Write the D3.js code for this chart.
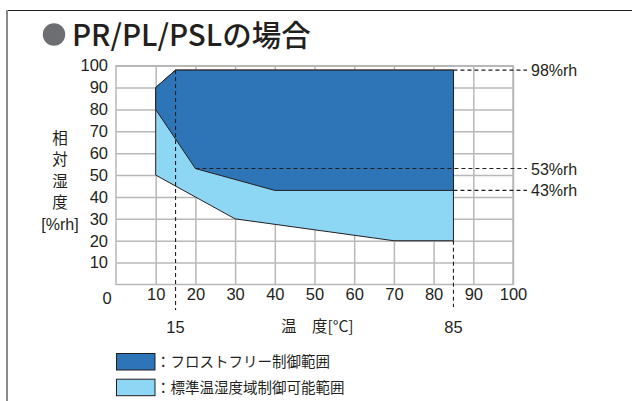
<!DOCTYPE html>
<html>
<head>
<meta charset="utf-8">
<script src="https://cdn.jsdelivr.net/npm/d3@7/dist/d3.min.js"></script>
<style>
  html, body { margin: 0; padding: 0; background: #fff; }
  svg { display: block; }
  text { font-family: "Liberation Sans", Arial, sans-serif; fill: #231f20; }
  .jp { font-family: "Noto Sans CJK JP", sans-serif; }
</style>
</head>
<body>
<svg id="chart" width="632" height="401"></svg>
<script>
// Temperature ticks (°C) and humidity ticks (%rh)
const xTicks = [10, 20, 30, 40, 50, 60, 70, 80, 90, 100];
const yTicks = [10, 20, 30, 40, 50, 60, 70, 80, 90, 100];

// Standard temperature/humidity control range (outer envelope) [temp, rh]
const standardRange = [
  [10, 90], [15, 98], [85, 98], [85, 20], [70, 20], [30, 30], [20, 40], [10, 50]
];
// Frost-free control range [temp, rh]
const frostFreeRange = [
  [10, 90], [15, 98], [85, 98], [85, 43], [40, 43], [20, 53], [10, 80]
];

// Reference markers
const markTemps = [15, 85];
const markRh = [98, 53, 43];
const markRhLabels = ["98%rh", "53%rh", "43%rh"];
// start temperature of each horizontal reference line
const markRhFrom = [85, 20, 85];

const legendLabels = ["：フロストフリー制御範囲", "：標準温湿度域制御可能範囲"];
const yTitleChars = ["相", "対", "湿", "度", "[%rh]"];

const darkBlue = "#2e75b8";
const lightBlue = "#8dd7f5";
const gridColor = "#b8b8b8";

const svg = d3.select("#chart");

const x = d3.scaleLinear().domain([0, 100]).range([116, 513]);
const y = d3.scaleLinear().domain([0, 100]).range([284.5, 65.7]);

// Frame
svg.append("line").attr("x1", 7).attr("x2", 632).attr("y1", 10.5).attr("y2", 10.5)
  .attr("stroke", "#231f20").attr("stroke-width", 1.2);
svg.append("line").attr("x1", 7).attr("x2", 7).attr("y1", 10).attr("y2", 401)
  .attr("stroke", "#8a8a8a").attr("stroke-width", 2);

// Title
svg.append("circle").attr("cx", 54).attr("cy", 34.5).attr("r", 11.2).attr("fill", "#6d6e71");
svg.append("text").attr("class", "jp").attr("x", 72).attr("y", 45.5)
  .attr("font-size", 29.5).attr("font-weight", 500)
  .text("PR/PL/PSLの場合");

// Grid via axes
const plotW = x(100) - x(0);
const plotH = y(0) - y(100);

const gx = svg.append("g").attr("transform", `translate(0,${y(0)})`)
  .call(d3.axisBottom(x).tickValues(xTicks).tickSize(-plotH).tickPadding(4).tickSizeOuter(0));
const gy = svg.append("g").attr("transform", `translate(${x(0)},0)`)
  .call(d3.axisLeft(y).tickValues(yTicks).tickSize(-plotW).tickPadding(8).tickSizeOuter(0));

[gx, gy].forEach(g => {
  g.select(".domain").remove();
  g.selectAll(".tick line").attr("stroke", gridColor).attr("stroke-width", 1.5);
  g.selectAll(".tick text").attr("font-size", 16.5).attr("fill", "#231f20")
    .attr("font-family", "Liberation Sans, Arial, sans-serif");
});
// Plot border
svg.append("rect").attr("x", x(0)).attr("y", y(100)).attr("width", plotW).attr("height", plotH)
  .attr("fill", "none").attr("stroke", gridColor).attr("stroke-width", 1.5);

// Origin label
svg.append("text").attr("x", x(0) - 9).attr("y", y(0) + 19.5)
  .attr("text-anchor", "middle").attr("font-size", 16.5).text("0");

const line = d3.line().x(d => x(d[0])).y(d => y(d[1]));

// Areas
svg.append("path").attr("d", line(standardRange) + "Z")
  .attr("fill", lightBlue).attr("stroke", "#231f20").attr("stroke-width", 1).attr("stroke-linejoin", "miter");
svg.append("path").attr("d", line(frostFreeRange) + "Z")
  .attr("fill", darkBlue).attr("stroke", "#231f20").attr("stroke-width", 1).attr("stroke-linejoin", "miter");

// Dashed reference lines
const dash = "4,3";
svg.append("line").attr("x1", x(markTemps[0])).attr("x2", x(markTemps[0]))
  .attr("y1", y(98)).attr("y2", 310)
  .attr("stroke", "#231f20").attr("stroke-width", 1.1).attr("stroke-dasharray", dash);
svg.append("line").attr("x1", x(markTemps[1])).attr("x2", x(markTemps[1]))
  .attr("y1", y(20)).attr("y2", 307)
  .attr("stroke", "#231f20").attr("stroke-width", 1.1).attr("stroke-dasharray", dash);

markRh.forEach((v, i) => {
  svg.append("line").attr("x1", x(markRhFrom[i])).attr("x2", 527)
    .attr("y1", y(v)).attr("y2", y(v))
    .attr("stroke", "#231f20").attr("stroke-width", 1.1).attr("stroke-dasharray", dash);
  svg.append("text").attr("x", 531).attr("y", y(v) + 6)
    .attr("font-size", 16).text(markRhLabels[i]);
});

// Marker temperature labels
markTemps.forEach(t => {
  svg.append("text").attr("x", x(t)).attr("y", 332.5)
    .attr("text-anchor", "middle").attr("font-size", 16.5).text(t);
});

// X axis title
svg.append("text").attr("class", "jp").attr("x", 281).attr("y", 332)
  .attr("font-size", 15.5).text("温　度[°C]");

// Y axis title (stacked)
yTitleChars.forEach((c, i) => {
  const isJp = c.length === 1;
  svg.append("text").attr("class", isJp ? "jp" : null)
    .attr("x", 60).attr("y", 143.5 + i * 21.5)
    .attr("text-anchor", "middle").attr("font-size", isJp ? 15.5 : 16).text(c);
});

// Legend
const legendColors = [darkBlue, lightBlue];
legendLabels.forEach((lab, i) => {
  const ly = 353.5 + i * 25.7;
  svg.append("rect").attr("x", 116.5).attr("y", ly).attr("width", 38.5).attr("height", 16.5)
    .attr("fill", legendColors[i]).attr("stroke", "#231f20").attr("stroke-width", 1);
  svg.append("text").attr("class", "jp").attr("x", 156).attr("y", ly + 13.5)
    .attr("font-size", 14.5).text(lab);
});
</script>
</body>
</html>
